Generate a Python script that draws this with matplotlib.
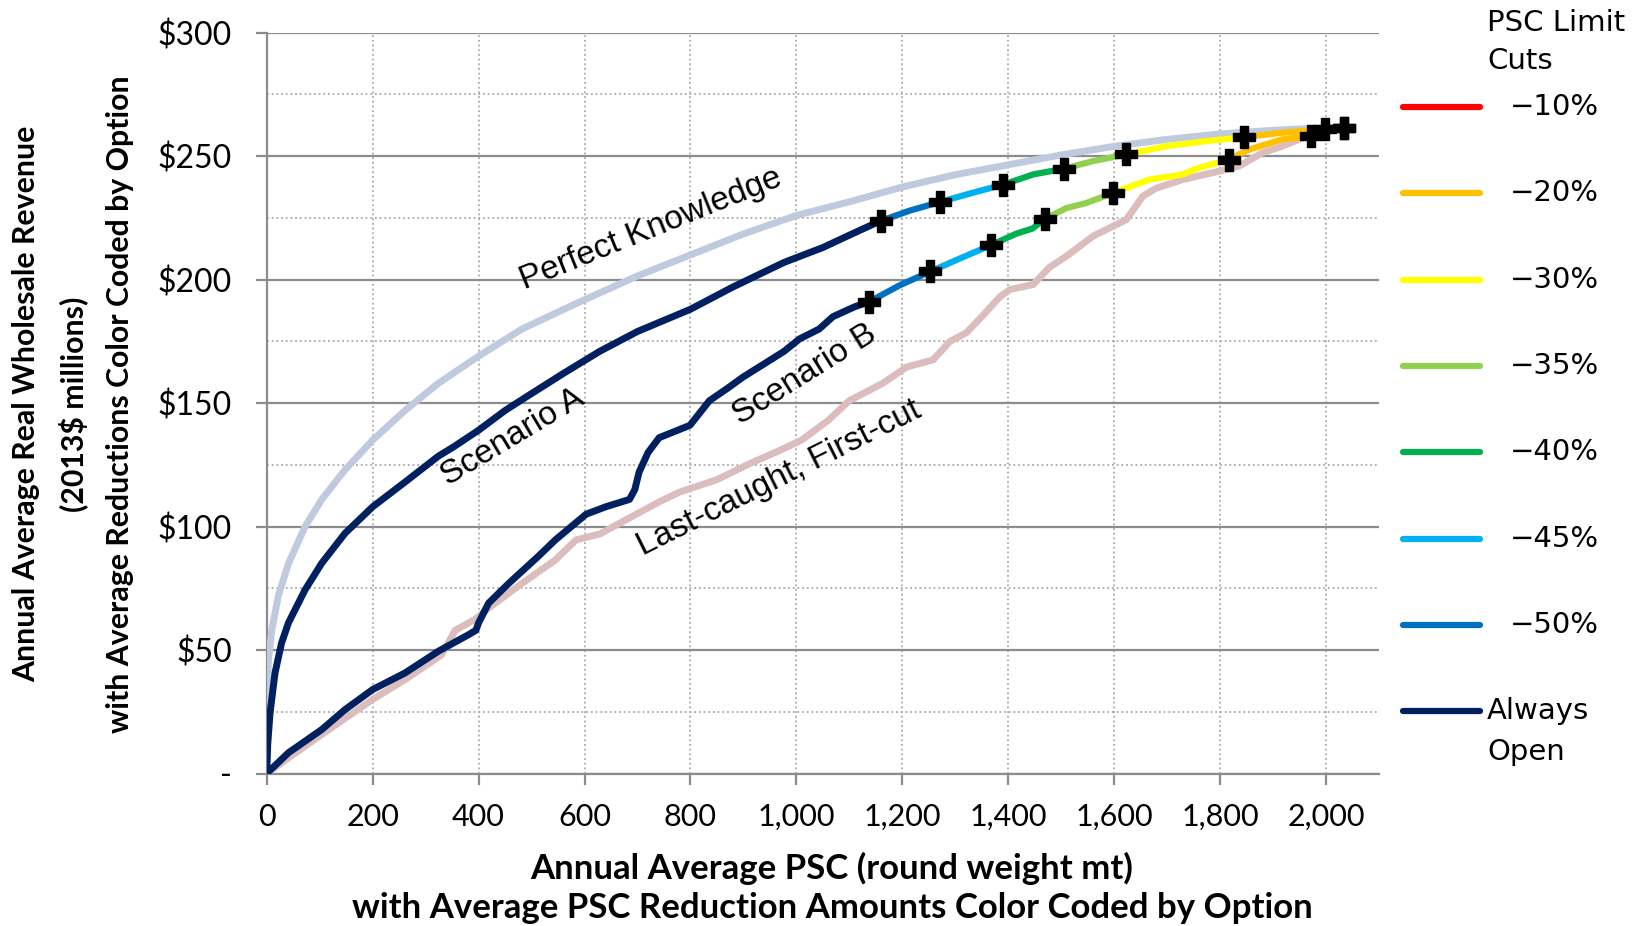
import matplotlib
matplotlib.use('Agg')
import matplotlib.pyplot as plt
from matplotlib.lines import Line2D
from matplotlib.ticker import FuncFormatter, MultipleLocator
import numpy as np

# ---------------- data ----------------
cut_labels = ['\u221210%', '\u221220%', '\u221230%', '\u221235%', '\u221240%', '\u221245%', '\u221250%', 'Always Open']
cut_colors = ['#FF0000', '#FFC000', '#FFFF00', '#92D050', '#00B050', '#00B0F0', '#0070C0', '#002060']

# Perfect Knowledge
pk_x = [0, 3, 9.5, 22, 41, 72.5, 104, 148, 200, 261, 324, 400, 482, 581, 700, 800, 900, 1000, 1100, 1200,
        1300, 1400, 1500, 1600, 1700, 1800, 1900, 2000, 2033]
pk_y = [22, 45, 58, 72, 85, 100, 111, 123, 135, 147, 158, 169, 180, 190, 201.5, 210, 218.5, 226, 231.5, 237.5,
        242.5, 246.5, 250.5, 254, 256.8, 259, 260.5, 261.5, 261.8]

# Scenario A
a_x = [0, 2, 6.3, 15.7, 28, 41, 72.5, 104, 148, 200, 261, 324, 353, 400, 450, 490, 560, 629, 700, 800, 880,
       977, 1050, 1110, 1159, 1215, 1272, 1330, 1391, 1447, 1505, 1560, 1623, 1698, 1770, 1846, 1917, 1998, 2033]
a_y = [0, 12, 24.5, 40.7, 52.8, 61, 74.4, 85.2, 97.3, 108, 118, 128.5, 132.3, 139, 147, 152.5, 162, 171, 179,
       188, 197, 207, 213, 219, 223.8, 228, 231.5, 235, 238.5, 242.6, 244.9, 248, 250.7, 254, 256, 257.7, 259.5,
       260.8, 261.5]
a_marks = [1159, 1272, 1391, 1505, 1623, 1846, 1998, 2033]

# Scenario B
b_x = [0, 41, 104, 148, 200, 261, 324, 381, 395, 400, 419, 457, 513, 545, 603, 640, 685, 695, 703, 720, 741,
       770, 799, 836, 870, 899, 940, 977, 1006, 1043, 1069, 1110, 1137, 1195, 1253, 1308, 1368, 1415, 1446, 1469,
       1510, 1547, 1597, 1666, 1729, 1760, 1816, 1855, 1917, 1972, 2000, 2033]
b_y = [0, 8.4, 17.8, 25.9, 34, 40.7, 49.5, 56.2, 58, 61, 69, 77, 88, 94.6, 105, 108, 111, 115, 122, 130, 136,
       138.5, 141, 151, 156, 160.5, 166, 171, 176, 180, 185, 189, 191, 197.7, 203.3, 208.5, 214, 218.6, 220.7,
       224.6, 229, 231, 235, 240.5, 242.6, 245.3, 248.6, 252.7, 256.8, 258.1, 260.3, 261.5]
b_marks = [1137, 1253, 1368, 1469, 1597, 1816, 1972, 2033]

# Last-caught, First-cut
lc_x = [0, 41, 104, 200, 261, 330, 356, 394, 419, 482, 545, 584, 629, 678, 741, 780, 850, 911, 960, 1010, 1060,
        1100, 1163, 1208, 1258, 1290, 1321, 1350, 1384, 1403, 1447, 1478, 1510, 1560, 1623, 1654, 1679, 1729,
        1800, 1836, 1880, 1917, 1980, 2033]
lc_y = [0, 6.3, 15.8, 30, 38, 48, 58, 62.5, 67, 77, 86.5, 94.6, 97, 102.7, 110, 114, 119, 125.4, 130, 135, 143,
        151, 158, 164.6, 167.5, 175, 178.5, 185, 193, 196, 198, 205, 209.5, 217.6, 224.3, 233.8, 237, 240.5,
        244, 246, 251.4, 254, 259.5, 261.5]

x_ticks = [0, 200, 400, 600, 800, 1000, 1200, 1400, 1600, 1800, 2000]
y_ticks = [0, 50, 100, 150, 200, 250, 300]

# ---------------- figure ----------------
W, H = 1644, 926
fig = plt.figure(figsize=(W / 100, H / 100), dpi=100)
fx = lambda px: px / W
fy = lambda py: 1 - py / H
ax = fig.add_axes([fx(266.7), fy(773.5), (1379 - 266.7) / W, (773.5 - 32.7) / H])

ax.set_xlim(0, 2100)
ax.set_ylim(0, 300)
ax.set_xticks(x_ticks)
ax.set_yticks(y_ticks)
ax.yaxis.set_minor_locator(MultipleLocator(25))
ax.xaxis.set_major_formatter(FuncFormatter(lambda v, p: f'{int(v):,}'))
ax.yaxis.set_major_formatter(FuncFormatter(lambda v, p: '-' if v == 0 else f'${int(v)}'))

grey = '#8c8c8c'
ax.yaxis.grid(True, which='major', color=grey, lw=1.6, ls='-')
ax.yaxis.grid(True, which='minor', color='#a9a9a9', lw=1.3, ls=(0, (1, 1.6)))
ax.xaxis.grid(True, which='major', color='#a9a9a9', lw=1.3, ls=(0, (1, 1.6)))
ax.set_axisbelow(True)
for s in ['top', 'right']:
    ax.spines[s].set_visible(False)
for s in ['left', 'bottom']:
    ax.spines[s].set_color(grey)
    ax.spines[s].set_linewidth(1.6)
ax.tick_params(axis='both', which='major', length=8, width=1.6, color=grey, labelsize=22, labelcolor='black')
ax.tick_params(axis='y', which='major', pad=17, labelsize=23)
ax.tick_params(axis='x', which='major', pad=13)
ax.tick_params(axis='both', which='minor', length=0)
for lab in ax.get_xticklabels() + ax.get_yticklabels():
    lab.set_family('Lato')

# curves
ax.plot(pk_x, pk_y, color='#BFCADF', lw=5, solid_capstyle='round', zorder=3)
ax.plot(lc_x, lc_y, color='#DCBDBD', lw=5, solid_capstyle='round', zorder=3)

seg_colors = cut_colors[::-1]  # Always Open first, then -50% ... -10%


def draw_segmented(xs, ys, marks):
    xs = np.array(xs, dtype=float)
    ys = np.array(ys, dtype=float)
    bounds = [xs[0]] + list(marks)
    for i in range(len(bounds) - 1):
        m = (xs >= bounds[i]) & (xs <= bounds[i + 1])
        c = seg_colors[i]
        lw = 5 if i == 0 else 4.5
        ax.plot(xs[m], ys[m], color=c, lw=lw, solid_capstyle='round', zorder=4 + i * 0.01)
    mk = np.isin(xs, marks)
    ax.plot(xs[mk], ys[mk], ls='none', marker='P', ms=16, color='black', mec='black', zorder=6)


draw_segmented(b_x, b_y, b_marks)
draw_segmented(a_x, a_y, a_marks)

ann = dict(fontsize=24, family='Liberation Sans', ha='center', va='center', rotation_mode='anchor', zorder=7)
ax.text(725, 220.4, 'Perfect Knowledge', rotation=22, **ann)
ax.text(465, 136, 'Scenario A', rotation=31, **ann)
ax.text(1016, 161.4, 'Scenario B', rotation=32, **ann)
ax.text(968, 119.5, 'Last-caught, First-cut', rotation=26.5, **ann)

# axis titles
yl = dict(rotation=90, ha='center', va='center', fontsize=21.8, weight='bold', family='Lato')
fig.text(fx(26), fy(404), 'Annual Average Real Wholesale Revenue', **yl)
fig.text(fx(73), fy(404), '(2013$ millions)', **yl)
fig.text(fx(120), fy(404), 'with Average Reductions Color Coded by Option', **yl)
xl = dict(ha='center', va='center', fontsize=25, weight='bold', family='Lato')
fig.text(fx(832), fy(868), 'Annual Average PSC (round weight mt)', **xl)
fig.text(fx(832), fy(908), 'with Average PSC Reduction Amounts Color Coded by Option', **xl)

# legend
lg = dict(fontsize=21, family='DejaVu Sans', va='center', ha='left')
fig.text(fx(1487), fy(23), 'PSC Limit', **lg)
fig.text(fx(1487), fy(61), 'Cuts', **lg)
leg_y = [107, 193, 280, 366, 452, 539, 625, 711]
for lab, c, yy in zip(cut_labels, cut_colors, leg_y):
    fig.add_artist(Line2D([fx(1403), fx(1480)], [fy(yy), fy(yy)], color=c, lw=4.5, solid_capstyle='round'))
    if lab == 'Always Open':
        fig.text(fx(1487), fy(yy), 'Always', **lg)
        fig.text(fx(1487), fy(yy + 41), 'Open', **lg)
    else:
        fig.text(fx(1510), fy(yy), lab, **lg)

fig.savefig('out.png', dpi=100)
